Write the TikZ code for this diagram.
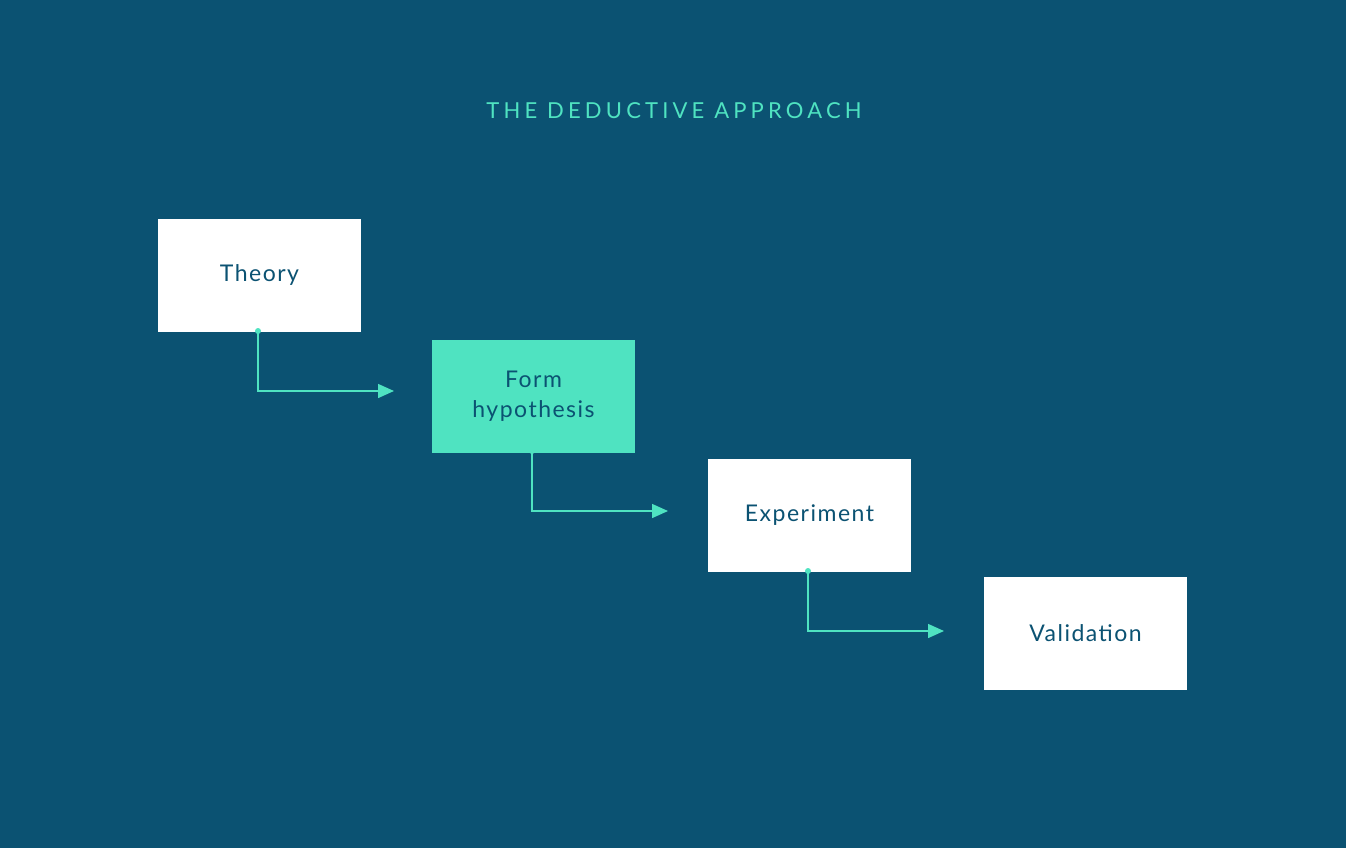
\documentclass[tikz,border=0pt]{standalone}
\usepackage{fontspec}
\setmainfont{Lato}
\newfontfamily\titlefont[LetterSpace=19]{Lato}
\newfontfamily\cardfont[LetterSpace=6.5]{Lato}
\usetikzlibrary{arrows.meta}
\definecolor{bgblue}{HTML}{0B5272}
\definecolor{mint}{HTML}{4FE3C1}
\begin{document}
\begin{tikzpicture}[x=1pt,y=-1pt,
  card/.style={draw=none,fill=white,minimum width=203pt,minimum height=113pt,inner sep=0pt,
    text=bgblue,font=\cardfont\fontsize{23}{30}\selectfont,align=center},
  hicard/.style={card,fill=mint},
  link/.style={draw=mint,line width=1.5pt,-{Triangle[length=16pt,width=14pt]}},
  startdot/.style={circle,fill=mint,inner sep=0pt,minimum size=6pt}]
\fill[bgblue] (0,0) rectangle (1346,848);
\useasboundingbox (0,0) rectangle (1346,848);
\node[text=mint,font=\titlefont\fontsize{22}{26}\selectfont] (title) at (674,111) {THE DEDUCTIVE APPROACH};
\node[card] (theory) at (259.5,275) {Theory};
\node[hicard] (form) at (533.5,396) {Form\\hypothesis};
\node[card] (exp) at (809.5,515) {Experiment};
\node[card] (valid) at (1085.5,633) {Validation};
\coordinate (e1) at (394,391);
\coordinate (e2) at (668,511);
\coordinate (e3) at (944,631);
\node[startdot] (d1) at (258,331) {};
\node[startdot] (d2) at (532,451) {};
\node[startdot] (d3) at (808,571) {};
\draw[link] (d1.center) |- (e1);
\draw[link] (d2.center) |- (e2);
\draw[link] (d3.center) |- (e3);
\end{tikzpicture}
\end{document}
